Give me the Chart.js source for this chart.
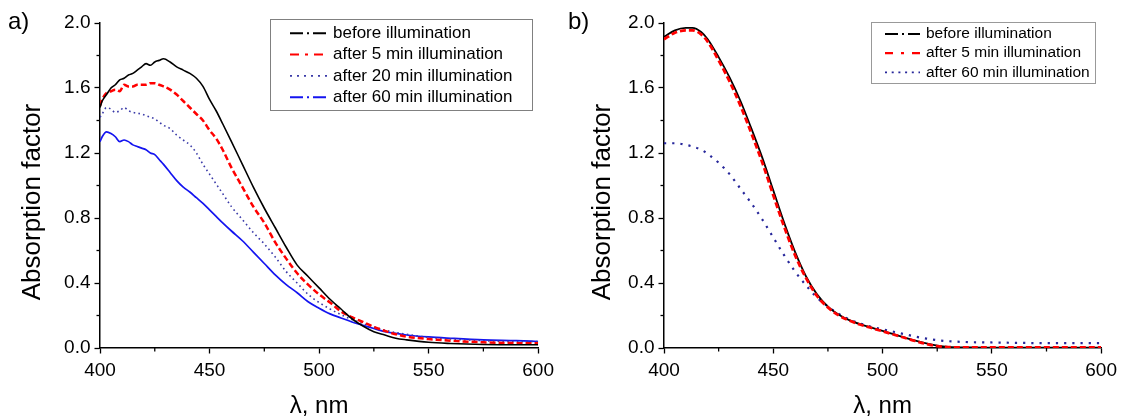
<!DOCTYPE html>
<html><head><meta charset="utf-8">
<script src="https://cdn.jsdelivr.net/npm/chart.js@4.4.1/dist/chart.umd.min.js"></script>
<style>
html,body{margin:0;padding:0;background:#fff;overflow:hidden;width:1123px;height:416px;}
canvas{position:absolute;top:0;}
#ca{left:0;} #cb{left:560px;}
.plabel{position:absolute;font-family:"Liberation Sans",Arial,sans-serif;font-size:24px;line-height:1;color:#000;}
.ytitle{position:absolute;font-family:"Liberation Sans",Arial,sans-serif;font-size:26px;line-height:1;color:#000;
  white-space:nowrap;transform:translate(-50%,-50%) rotate(-90deg);}
</style></head><body>
<canvas id="ca" width="560" height="416"></canvas>
<canvas id="cb" width="563" height="416"></canvas>
<div class="plabel" style="left:8px;top:9px">a)</div>
<div class="plabel" style="left:568px;top:9px">b)</div>
<div class="ytitle" id="yta" style="left:31px;top:202px"></div>
<div class="ytitle" id="ytb" style="left:601px;top:202px"></div>
<script>
// ---------- DATA ----------
const xTitle = "λ, nm";
const yTitle = "Absorption factor";
const xTickLabels = [400, 450, 500, 550, 600];
const yTickLabels = [0.0, 0.4, 0.8, 1.2, 1.6, 2.0];

// Panel a
const labelsA = ["before illumination", "after 5 min illumination", "after 20 min illumination", "after 60 min illumination"];
const wavelengthA = [400,401,403,405,407,409,411,413,415,417,419,421,423,425,427,429,432,435,438,441,444,447,450,453,456,460,465,470,475,480,485,490,495,500,505,510,515,520,525,530,535,540,550,560,575,590,600];
const aBefore = [1.48,1.52,1.56,1.60,1.62,1.65,1.66,1.68,1.69,1.71,1.73,1.75,1.74,1.76,1.77,1.78,1.76,1.73,1.71,1.69,1.66,1.61,1.53,1.46,1.38,1.27,1.13,0.99,0.86,0.74,0.62,0.51,0.44,0.37,0.30,0.24,0.18,0.135,0.10,0.08,0.06,0.05,0.035,0.028,0.022,0.02,0.02];
const a5min = [1.49,1.53,1.57,1.58,1.59,1.58,1.62,1.61,1.61,1.62,1.62,1.62,1.63,1.63,1.62,1.61,1.59,1.56,1.52,1.48,1.44,1.40,1.34,1.29,1.22,1.11,0.99,0.87,0.77,0.65,0.55,0.46,0.39,0.33,0.28,0.225,0.19,0.16,0.13,0.105,0.085,0.07,0.055,0.045,0.035,0.03,0.03];
const a20min = [1.42,1.44,1.48,1.47,1.45,1.46,1.48,1.46,1.45,1.445,1.44,1.43,1.42,1.41,1.39,1.37,1.35,1.31,1.28,1.25,1.20,1.13,1.07,1.01,0.95,0.87,0.79,0.71,0.64,0.56,0.47,0.40,0.33,0.28,0.24,0.205,0.175,0.15,0.13,0.11,0.095,0.085,0.065,0.055,0.045,0.04,0.04];
const a60min = [1.27,1.30,1.33,1.32,1.30,1.27,1.28,1.27,1.25,1.24,1.23,1.22,1.20,1.19,1.16,1.13,1.08,1.03,0.99,0.96,0.925,0.89,0.85,0.81,0.77,0.72,0.66,0.59,0.52,0.45,0.39,0.34,0.285,0.245,0.21,0.185,0.16,0.14,0.12,0.10,0.09,0.08,0.068,0.06,0.05,0.045,0.04];

// Panel b
const labelsB = ["before illumination", "after 5 min illumination", "after 60 min illumination"];
const wavelengthB = [400,405,410,413,417,420,425,430,435,440,445,450,455,460,465,470,475,480,485,490,495,500,505,510,515,520,525,530,540,550,575,600];
const bBefore = [1.915,1.955,1.97,1.97,1.945,1.90,1.79,1.665,1.52,1.35,1.17,0.97,0.77,0.59,0.44,0.33,0.255,0.205,0.17,0.145,0.125,0.105,0.085,0.065,0.045,0.028,0.015,0.007,0.003,0.002,0.002,0.002];
const b5min = [1.90,1.94,1.955,1.955,1.93,1.885,1.77,1.64,1.49,1.32,1.14,0.94,0.745,0.57,0.43,0.32,0.25,0.20,0.168,0.143,0.123,0.103,0.083,0.063,0.043,0.025,0.012,0.006,0.003,0.003,0.003,0.003];
const b60min = [1.26,1.26,1.25,1.24,1.22,1.195,1.14,1.07,0.98,0.89,0.79,0.68,0.57,0.47,0.385,0.31,0.255,0.21,0.175,0.15,0.13,0.115,0.10,0.085,0.07,0.058,0.048,0.042,0.036,0.034,0.03,0.03];

// ---------- HELPERS ----------
document.getElementById('yta').textContent = yTitle;
document.getElementById('ytb').textContent = yTitle;
const FONT = '"Liberation Sans", Arial, Helvetica, sans-serif';
function pts(xs, ys){ return xs.map((x,i)=>({x:x, y:ys[i]})); }
const isMajorX = v => xTickLabels.indexOf(Math.round(v)) >= 0;
const isMajorY = v => yTickLabels.some(t => Math.abs(t - v) < 1e-6);

const boxLegend = {
  id: 'boxLegend',
  afterDraw(chart, args, o){
    const ctx = chart.ctx;
    ctx.save();
    ctx.strokeStyle = o.borderColor; ctx.lineWidth = 1;
    ctx.strokeRect(o.x + 0.5, o.y + 0.5, o.w, o.h);
    ctx.font = o.fontSize + 'px ' + FONT;
    ctx.textBaseline = 'middle'; ctx.textAlign = 'left'; ctx.fillStyle = '#000';
    chart.data.datasets.forEach((ds, i) => {
      const yy = o.rowY0 + i * o.rowDy;
      ctx.save();
      ctx.strokeStyle = ds.borderColor;
      ctx.lineWidth = ds.legendWidth || ds.borderWidth;
      ctx.setLineDash(ds.legendDash || []);
      ctx.beginPath(); ctx.moveTo(o.lineX0, yy); ctx.lineTo(o.lineX1, yy); ctx.stroke();
      ctx.restore();
      ctx.fillText(ds.label, o.textX, yy);
    });
    ctx.restore();
  }
};

const minorTicks = {
  id: 'minorTicks',
  afterDraw(chart){
    const ctx = chart.ctx, xs = chart.scales.x, ys = chart.scales.y, ca = chart.chartArea;
    ctx.save();
    ctx.strokeStyle = '#000'; ctx.lineWidth = 1.3;
    xs.ticks.forEach(t => {
      if (!isMajorX(t.value)) {
        const p = xs.getPixelForValue(t.value);
        ctx.beginPath(); ctx.moveTo(p, ca.bottom); ctx.lineTo(p, ca.bottom + 3.5); ctx.stroke();
      }
    });
    ys.ticks.forEach(t => {
      if (!isMajorY(t.value)) {
        const p = ys.getPixelForValue(t.value);
        ctx.beginPath(); ctx.moveTo(ca.left, p); ctx.lineTo(ca.left - 3.5, p); ctx.stroke();
      }
    });
    ctx.restore();
  }
};

function makeOptions(yAxisWidth, padRight, legendCfg){
  return {
    responsive: false, animation: false, devicePixelRatio: 1, events: [],
    layout: { padding: { left: 0, right: padRight, top: 23, bottom: 0 } },
    elements: { point: { radius: 0 }, line: { cubicInterpolationMode: 'monotone' } },
    plugins: { legend: { display: false }, tooltip: { enabled: false }, boxLegend: legendCfg },
    scales: {
      x: {
        type: 'linear', min: 400, max: 600,
        ticks: { stepSize: 25, autoSkip: false, maxRotation: 0, padding: 6, color: '#000',
                 font: { family: FONT, size: 19 },
                 callback: v => isMajorX(v) ? String(Math.round(v)) : '' },
        grid: { display: true, drawOnChartArea: false, drawTicks: true, tickLength: 5.5, tickWidth: 1.3,
                tickColor: c => isMajorX(c.tick.value) ? '#000' : 'rgba(0,0,0,0)' },
        border: { display: true, color: '#000', width: 1.5 },
        title: { display: true, text: xTitle, color: '#000', font: { family: FONT, size: 24 },
                 padding: { top: 0, bottom: -5 } },
        afterFit: s => { s.height = 68; }
      },
      y: {
        type: 'linear', min: 0, max: 2,
        ticks: { stepSize: 0.2, autoSkip: false, padding: 4, color: '#000',
                 font: { family: FONT, size: 19 },
                 callback: v => isMajorY(v) ? v.toFixed(1) : '' },
        grid: { display: true, drawOnChartArea: false, drawTicks: true, tickLength: 5.5, tickWidth: 1.3,
                tickColor: c => isMajorY(c.tick.value) ? '#000' : 'rgba(0,0,0,0)' },
        border: { display: true, color: '#000', width: 1.5 },
        title: { display: false },
        afterFit: s => { s.width = yAxisWidth; }
      }
    }
  };
}

// ---------- PANEL A ----------
new Chart(document.getElementById('ca'), {
  type: 'line',
  data: { datasets: [
    { label: labelsA[0], data: pts(wavelengthA, aBefore), borderColor: '#000000', borderWidth: 1.6,
      legendDash: [13,4,2,4], legendWidth: 2, order: 1 },
    { label: labelsA[1], data: pts(wavelengthA, a5min), borderColor: '#ff0000', borderWidth: 2.5,
      borderDash: [6,3], legendDash: [9,6,3,6], legendWidth: 2, order: 2 },
    { label: labelsA[2], data: pts(wavelengthA, a20min), borderColor: '#3a3aa8', borderWidth: 1.6,
      borderDash: [1.6,3.2], legendDash: [2,5], legendWidth: 1.6, order: 3 },
    { label: labelsA[3], data: pts(wavelengthA, a60min), borderColor: '#1414f0', borderWidth: 1.7,
      legendDash: [13,4,2,4], legendWidth: 2, order: 4 }
  ]},
  options: makeOptions(100, 19, {
    x: 270, y: 19, w: 262, h: 91, borderColor: '#808080',
    lineX0: 290, lineX1: 327, textX: 333, rowY0: 33.3, rowDy: 21.3, fontSize: 17
  }),
  plugins: [boxLegend, minorTicks]
});

// ---------- PANEL B ----------
new Chart(document.getElementById('cb'), {
  type: 'line',
  data: { datasets: [
    { label: labelsB[0], data: pts(wavelengthB, bBefore), borderColor: '#000000', borderWidth: 1.8,
      legendDash: [13,4,2,4], legendWidth: 2.2, order: 2 },
    { label: labelsB[1], data: pts(wavelengthB, b5min), borderColor: '#ff0000', borderWidth: 2.8,
      borderDash: [6,3], legendDash: [8,8,3,8], legendWidth: 2.2, order: 1 },
    { label: labelsB[2], data: pts(wavelengthB, b60min), borderColor: '#26269a', borderWidth: 2.2,
      borderDash: [2.2,6], legendDash: [2,4.7], legendWidth: 1.8, order: 3 }
  ]},
  options: makeOptions(104, 20, {
    x: 311, y: 22, w: 224, h: 61, borderColor: '#999999',
    lineX0: 325, lineX1: 360, textX: 366, rowY0: 34, rowDy: 19.2, fontSize: 15.5
  }),
  plugins: [boxLegend, minorTicks]
});
</script>
</body></html>
